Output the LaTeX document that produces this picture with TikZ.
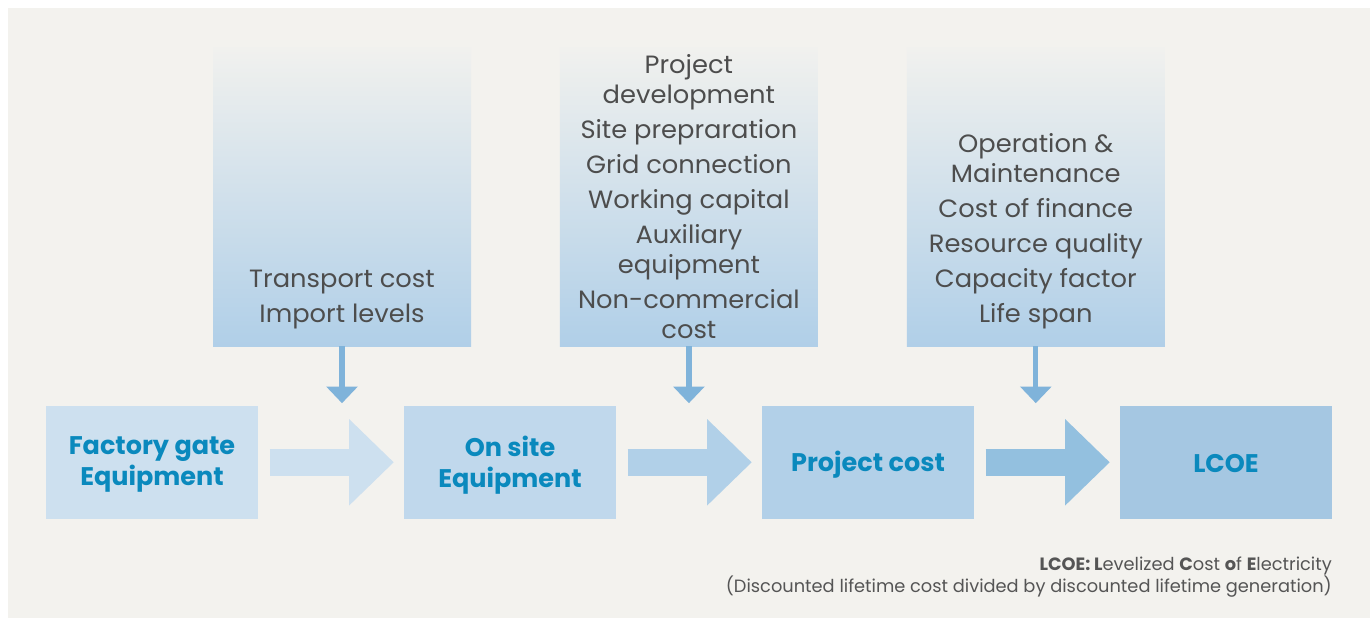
\documentclass[tikz,border=0pt]{standalone}
\usepackage{fontspec}
\setmainfont{Poppins}
\newfontfamily\widefont[FakeStretch=1.03]{Poppins}
\usetikzlibrary{arrows.meta,calc}
\definecolor{panel}{HTML}{F3F2EE}
\definecolor{gtop}{HTML}{F1F1EE}
\definecolor{gbot}{HTML}{B0CFE8}
\definecolor{cA}{HTML}{CDE0EF}
\definecolor{cB}{HTML}{C0D8EC}
\definecolor{cC}{HTML}{B2D0E8}
\definecolor{cD}{HTML}{A5C7E2}
\definecolor{aA}{HTML}{CDE0EF}
\definecolor{aB}{HTML}{B1D0E8}
\definecolor{aC}{HTML}{93C0DF}
\definecolor{downc}{HTML}{7FB3DA}
\definecolor{boldtxt}{HTML}{0A89BD}
\definecolor{graytxt}{HTML}{4D4D4D}
\definecolor{foot}{HTML}{555555}
\tikzset{
  topbox/.style={rectangle, inner sep=0pt, minimum width=258pt, minimum height=299pt, top color=gtop, bottom color=gbot, draw=none},
  botbox/.style={rectangle, inner sep=0pt, minimum width=212pt, minimum height=113pt, draw=none, text=boldtxt, font=\fontsize{25.5}{31}\selectfont\bfseries, align=center},
  toptext/.style={text=graytxt, font=\widefont\fontsize{25}{30}\selectfont, align=center, inner sep=0pt},
  fatarrow/.style={line width=26.6pt, -{Triangle[length=44.7pt,width=83.7pt]}, shorten <=11.3pt, shorten >=10pt},
  downarrow/.style={draw=downc, line width=5.3pt, -{Triangle[length=16.7pt,width=30.7pt]}, shorten >=2.4pt},
  foottext/.style={anchor=east, text=foot, font=\fontsize{17.8}{20}\selectfont, inner sep=0pt},
}
\begin{document}
\begin{tikzpicture}[x=1pt,y=-1pt]
\useasboundingbox (0,0) rectangle (1370,619);
\fill[white] (0,0) rectangle (1370,619);
\fill[panel] (8,8) rectangle (1370,618);
% top boxes
\node[topbox] (T1) at (342,196.5) {};
\node[topbox] (T2) at (688.9,196.5) {};
\node[topbox] (T3) at (1035.8,196.5) {};
% bottom boxes
\node[botbox, fill=cA] (A) at (152,462.3) {};
\node[botbox, fill=cB] (B) at (510,462.3) {};
\node[botbox, fill=cC] (C) at (868,462.3) {};
\node[botbox, fill=cD] (D) at (1226,462.3) {};
\node[botbox, fill=none, minimum width=0pt, minimum height=0pt] (LA) at ($(A.center)+(0,2.5)$) {Factory gate\\Equipment};
\node[botbox, fill=none, minimum width=0pt, minimum height=0pt] (LB) at ($(B.center)+(0,2.5)$) {On site\\Equipment};
\node[botbox, fill=none, minimum width=0pt, minimum height=0pt] (LC) at ($(C.center)+(0,2)$) {Project cost};
\node[botbox, fill=none, minimum width=0pt, minimum height=0pt] (LD) at ($(D.center)+(0,1)$) {LCOE};
% texts
\node[toptext] (X1) at (342,299.5) {Transport cost\\[5pt]Import levels};
\node[toptext] (X2) at (688.9,196.5) {Project\\development\\[5pt]Site prepraration\\[5pt]Grid connection\\[5pt]Working capital\\[5pt]Auxiliary\\equipment\\[5pt]Non-commercial\\cost};
\node[toptext] (X3) at (1035.8,231) {Operation \&\\Maintenance\\[5pt]Cost of finance\\[5pt]Resource quality\\[5pt]Capacity factor\\[5pt]Life span};
% fat arrows
\draw[fatarrow, draw=aA] (A.east) -- (B.west);
\draw[fatarrow, draw=aB] (B.east) -- (C.west);
\draw[fatarrow, draw=aC] (C.east) -- (D.west);
% down arrows
\coordinate (E1) at (T1.south |- A.north);
\coordinate (E2) at (T2.south |- A.north);
\coordinate (E3) at (T3.south |- A.north);
\draw[downarrow] (T1.south) -- (E1);
\draw[downarrow] (T2.south) -- (E2);
\draw[downarrow] (T3.south) -- (E3);
% footnote
\node[foottext] (F1) at (1332,566) {\textbf{LCOE: L}evelized \textbf{C}ost \textbf{o}f \textbf{E}lectricity};
\node[foottext] (F2) at (1332,587) {(Discounted lifetime cost divided by discounted lifetime generation)};
\end{tikzpicture}
\end{document}
